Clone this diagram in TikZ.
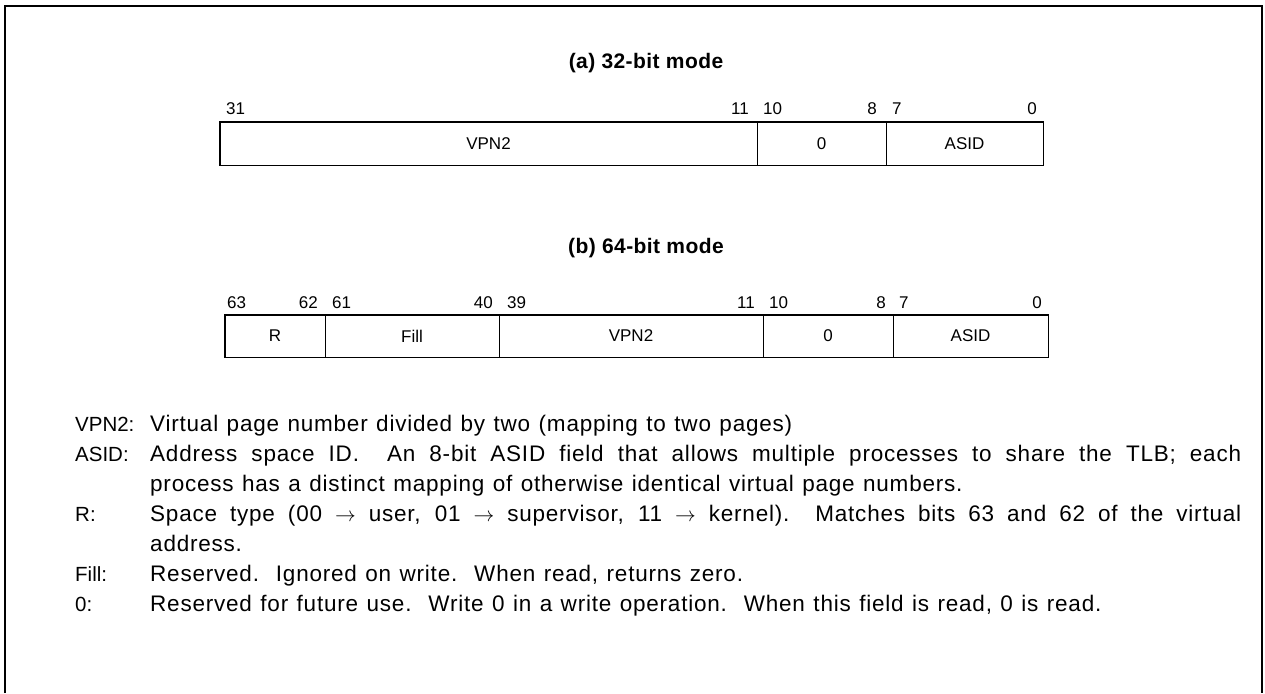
\documentclass[tikz,border=0pt]{standalone}
\usepackage{fontspec}
\setmainfont{Liberation Sans}
\newfontfamily\descfont[LetterSpace=3.5,WordSpace=1.2]{Liberation Sans}
\newfontfamily\ttlfont[LetterSpace=2]{Liberation Sans}
\newcommand\fsz{\fontsize{17}{30}\selectfont}
\newcommand\dsz{\descfont\fontsize{22.5}{30}\selectfont}
\newcommand\lsz{\fontsize{20.5}{30}\selectfont}
\newcommand\tsz{\ttlfont\fontsize{21}{30}\selectfont\bfseries}
\begin{document}
\begin{tikzpicture}[x=1pt,y=-1pt,
  field/.style={draw, line width=0.9pt, inner sep=0pt, font=\fsz, anchor=center},
  outer/.style={line width=1.8pt},
  bitl/.style={font=\fsz, inner sep=0pt, anchor=base west},
  bitr/.style={font=\fsz, inner sep=0pt, anchor=base east},
  ttl/.style={font=\tsz, inner sep=0pt, anchor=base},
  deslabel/.style={font=\lsz, anchor=base west, inner sep=0pt},
  destext/.style={font=\dsz, anchor=base west, inner sep=0pt, text width=1091pt, align=justify}
]
\useasboundingbox (0,0) rectangle (1265,693);
% frame
\coordinate (fbl) at (5,693);
\coordinate (ftl) at (5,6);
\coordinate (ftr) at (1262,6);
\coordinate (fbr) at (1262,693);
\draw[line width=2.5pt] (fbl) -- (ftl) -- (ftr) -- (fbr);

% (a) 32-bit mode
\node[ttl] (ta) at (646,68) {(a) 32-bit mode};
\node[field, minimum width=537pt, minimum height=43pt] (a1) at (488.5,143.5) {VPN2};
\node[field, minimum width=129pt, minimum height=43pt] (a2) at (821.5,143.5) {0};
\node[field, minimum width=157pt, minimum height=43pt] (a3) at (964.5,143.5) {ASID};
\draw[outer] (a1.north west) rectangle (a3.south east);
\node[bitl] at (226,114) {31};
\node[bitr] at (749,114) {11};
\node[bitl] at (763,114) {10};
\node[bitr] at (877,114) {8};
\node[bitl] at (892,114) {7};
\node[bitr] at (1037,114) {0};

% (b) 64-bit mode
\node[ttl] (tb) at (646,253) {(b) 64-bit mode};
\node[field, minimum width=100pt, minimum height=42pt] (b1) at (275,336) {R};
\node[field, minimum width=174pt, minimum height=42pt] (b2) at (412,336) {Fill};
\node[field, minimum width=264pt, minimum height=42pt] (b3) at (631,336) {VPN2};
\node[field, minimum width=130pt, minimum height=42pt] (b4) at (828,336) {0};
\node[field, minimum width=155pt, minimum height=42pt] (b5) at (970.5,336) {ASID};
\draw[outer] (b1.north west) rectangle (b5.south east);
\node[bitl] at (227,308) {63};
\node[bitr] at (318,308) {62};
\node[bitl] at (332,308) {61};
\node[bitr] at (493,308) {40};
\node[bitl] at (507,308) {39};
\node[bitr] at (755,308) {11};
\node[bitl] at (769,308) {10};
\node[bitr] at (886,308) {8};
\node[bitl] at (899,308) {7};
\node[bitr] at (1042,308) {0};

% descriptions
\node[deslabel] (l1) at (75,431) {VPN2:};
\node[destext]  (d1) at (150,431) {Virtual page number divided by two (mapping to two pages)};
\node[deslabel] (l2) at (75,461) {ASID:};
\node[destext]  (d2) at (150,461) {Address space ID.\ \ An 8-bit ASID field that allows multiple processes to share the TLB; each\linebreak process has a distinct mapping of otherwise identical virtual page numbers.};
\node[deslabel] (l3) at (75,521) {R:};
\node[destext]  (d3) at (150,521) {Space type (00 $\rightarrow$ user, 01 $\rightarrow$ supervisor, 11 $\rightarrow$ kernel).\ \ Matches bits 63 and 62 of the virtual\linebreak address.};
\node[deslabel] (l4) at (75,581) {Fill:};
\node[destext]  (d4) at (150,581) {Reserved.\ \ Ignored on write.\ \ When read, returns zero.};
\node[deslabel] (l5) at (75,611) {0:};
\node[destext]  (d5) at (150,611) {Reserved for future use.\ \ Write 0 in a write operation.\ \ When this field is read, 0 is read.};
\end{tikzpicture}
\end{document}
